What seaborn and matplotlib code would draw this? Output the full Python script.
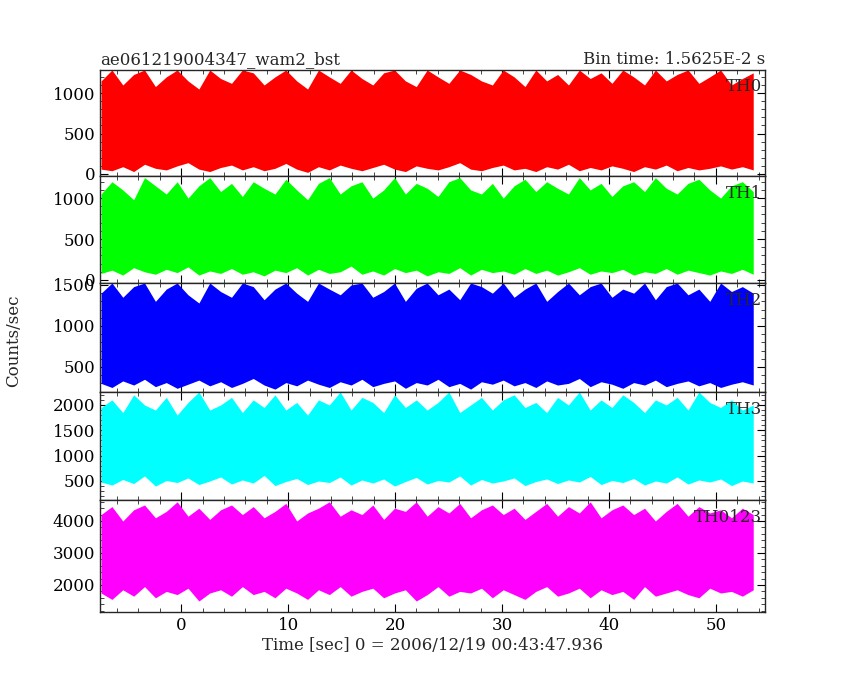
import numpy as np
import matplotlib
matplotlib.use("Agg")
import matplotlib.pyplot as plt
import seaborn as sns

sns.set_style("ticks")
plt.rcParams['font.family'] = ['DejaVu Serif', 'DejaVu Sans']

# channel names, colours, envelope of the light curve (per ~1 s)
names = ["TH0", "TH1", "TH2", "TH3", "TH0123"]
colors = ["#ff0000", "#00ff00", "#0000ff", "#00ffff", "#ff00ff"]
ylims = [(-25, 1285), (-37, 1270), (195, 1524), (125, 2256), (1156, 4656)]
yticks = [[0, 500, 1000], [0, 500, 1000], [500, 1000, 1500], [500, 1000, 1500, 2000], [2000, 3000, 4000]]

th0_lo = [60, 40, 90, 30, 120, 70, 50, 100, 140, 60, 30, 80, 110, 50, 90, 40, 70, 130, 60, 20,
          90, 50, 110, 70, 40, 80, 120, 60, 30, 100, 70, 50, 90, 140, 60, 40, 80, 110, 50, 70,
          30, 90, 60, 120, 40, 80, 50, 100, 70, 30, 90, 60, 110, 40, 80, 50, 70, 100, 60, 90, 50]
th0_hi = [1150, 1285, 1100, 1230, 1285, 1080, 1200, 1285, 1150, 1050, 1285, 1180, 1120, 1285, 1250, 1100, 1200, 1285, 1150, 1050,
          1285, 1200, 1120, 1285, 1180, 1100, 1250, 1285, 1150, 1080, 1285, 1200, 1120, 1285, 1230, 1150, 1100, 1285, 1200, 1080,
          1285, 1150, 1230, 1100, 1285, 1180, 1250, 1120, 1285, 1200, 1100, 1285, 1150, 1230, 1285, 1120, 1200, 1285, 1100, 1180, 1250]
th1_lo = [80, 120, 60, 150, 100, 70, 130, 90, 160, 60, 110, 80, 140, 70, 100, 50, 120, 90, 150, 60,
          130, 80, 100, 170, 70, 110, 60, 140, 90, 120, 50, 100, 80, 150, 60, 130, 90, 110, 70, 140,
          80, 120, 60, 100, 150, 70, 110, 90, 130, 60, 100, 80, 140, 70, 120, 90, 60, 110, 80, 130, 70]
th1_hi = [1050, 1200, 1100, 980, 1250, 1150, 1050, 1200, 1000, 1150, 1250, 1080, 1180, 1020, 1200, 1120, 1050, 1230, 1100, 980,
          1180, 1250, 1050, 1150, 1200, 1000, 1100, 1250, 1050, 1180, 1120, 1020, 1200, 1250, 1100, 1050, 1180, 1000, 1150, 1230,
          1080, 1200, 1120, 1050, 1250, 1100, 1180, 1020, 1150, 1200, 1080, 1250, 1120, 1050, 1180, 1230, 1100, 1000, 1150, 1200, 1080]
th2_lo = [300, 250, 330, 280, 350, 260, 310, 240, 290, 340, 270, 320, 250, 300, 360, 280, 230, 310, 270, 340,
          290, 250, 320, 280, 350, 260, 300, 330, 240, 310, 280, 350, 260, 300, 230, 320, 290, 340, 270, 310,
          250, 330, 280, 300, 360, 260, 320, 290, 240, 310, 280, 340, 260, 300, 330, 270, 310, 250, 290, 320, 280]
th2_hi = [1400, 1524, 1350, 1480, 1524, 1300, 1450, 1524, 1380, 1280, 1524, 1420, 1350, 1524, 1480, 1320, 1450, 1524, 1400, 1300,
          1524, 1450, 1380, 1500, 1524, 1350, 1420, 1524, 1300, 1460, 1524, 1380, 1450, 1320, 1524, 1480, 1400, 1524, 1350, 1450,
          1524, 1300, 1420, 1524, 1380, 1480, 1524, 1350, 1450, 1400, 1524, 1320, 1480, 1524, 1380, 1450, 1300, 1524, 1420, 1480, 1400]
th3_lo = [480, 420, 530, 450, 600, 400, 510, 470, 560, 430, 500, 580, 440, 520, 460, 610, 410, 490, 550, 430,
          500, 470, 580, 420, 520, 460, 540, 400, 490, 570, 440, 510, 480, 600, 420, 530, 460, 500, 560, 410,
          490, 540, 450, 520, 480, 590, 430, 510, 470, 550, 420, 500, 460, 580, 440, 520, 480, 540, 410, 500, 460]
th3_hi = [1950, 2100, 1850, 2200, 2000, 1900, 2150, 1800, 2050, 2256, 1900, 2000, 2150, 1850, 2100, 1950, 2200, 1900, 2050, 1800,
          2100, 2000, 2256, 1900, 2150, 2050, 1850, 2200, 1950, 2100, 1900, 2050, 2256, 1850, 2000, 2150, 1900, 2100, 2200, 1950,
          2050, 1850, 2150, 2000, 2256, 1900, 2100, 1950, 2200, 2050, 1850, 2100, 2000, 2150, 1900, 2256, 2050, 1950, 2100, 1900, 2000]
th4_lo = [1750, 1550, 1850, 1650, 1950, 1600, 1800, 1700, 1900, 1500, 1750, 1850, 1650, 1950, 1700, 1800, 1600, 1900, 1750, 1550,
          1850, 1700, 1950, 1650, 1800, 1900, 1600, 1750, 1850, 1500, 1700, 1950, 1650, 1800, 1750, 1900, 1600, 1850, 1700, 1550,
          1800, 1950, 1650, 1750, 1900, 1600, 1850, 1700, 1800, 1550, 1950, 1650, 1750, 1850, 1700, 1600, 1900, 1750, 1800, 1650, 1850]
th4_hi = [4200, 4450, 4000, 4350, 4500, 4100, 4300, 4600, 4150, 4400, 4050, 4350, 4500, 4200, 4450, 4100, 4300, 4550, 4000, 4250,
          4400, 4600, 4150, 4350, 4200, 4500, 4050, 4400, 4300, 4600, 4150, 4450, 4250, 4550, 4100, 4350, 4500, 4200, 4400, 4050,
          4300, 4550, 4150, 4450, 4250, 4600, 4100, 4350, 4500, 4200, 4400, 4000, 4300, 4550, 4150, 4450, 4250, 4350, 4100, 4400, 4200]

lows = [th0_lo, th1_lo, th2_lo, th3_lo, th4_lo]
highs = [th0_hi, th1_hi, th2_hi, th3_hi, th4_hi]
t_start, t_end = -7.5, 53.5

fig = plt.figure(figsize=(8.5, 6.8), dpi=100)
tops = [70, 176, 283, 392, 500, 612]
axes = []
for i in range(5):
    y0 = 1 - tops[i + 1] / 680
    h = (tops[i + 1] - tops[i]) / 680
    ax = fig.add_axes([100 / 850, y0, 665 / 850, h], sharex=axes[0] if axes else None)
    axes.append(ax)
    lo = np.array(lows[i], float)
    hi = np.array(highs[i], float)
    n = min(len(lo), len(hi))
    lo, hi = lo[:n], hi[:n]
    t = np.linspace(t_start, t_end, n)
    ax.fill_between(t, lo, hi, color=colors[i], linewidth=0)
    ax.set_xlim(-7.6, 54.6)
    ax.set_ylim(*ylims[i])
    ax.set_yticks(yticks[i])
    ax.tick_params(direction="in", top=True, right=True, length=6, labelsize=12, colors="black")
    ax.minorticks_on()
    ax.tick_params(which="minor", direction="in", top=True, right=True, length=3)
    ax.text(0.995, 0.92, names[i], transform=ax.transAxes, ha="right", va="top", fontsize=12)
    for s in ax.spines.values():
        s.set_linewidth(1.0)
    if i < 4:
        plt.setp(ax.get_xticklabels(), visible=False)

axes[0].set_title("ae061219004347_wam2_bst", loc="left", fontsize=12, pad=4)
axes[0].set_title("Bin time: 1.5625E-2 s", loc="right", fontsize=12, pad=4)
axes[-1].set_xticks([0, 10, 20, 30, 40, 50])
axes[-1].set_xlabel("Time [sec] 0 = 2006/12/19 00:43:47.936", fontsize=12, labelpad=2)
fig.text(14 / 850, 1 - 341 / 680, "Counts/sec", rotation=90, va="center", ha="center", fontsize=12)

fig.savefig("out.png", dpi=100)
